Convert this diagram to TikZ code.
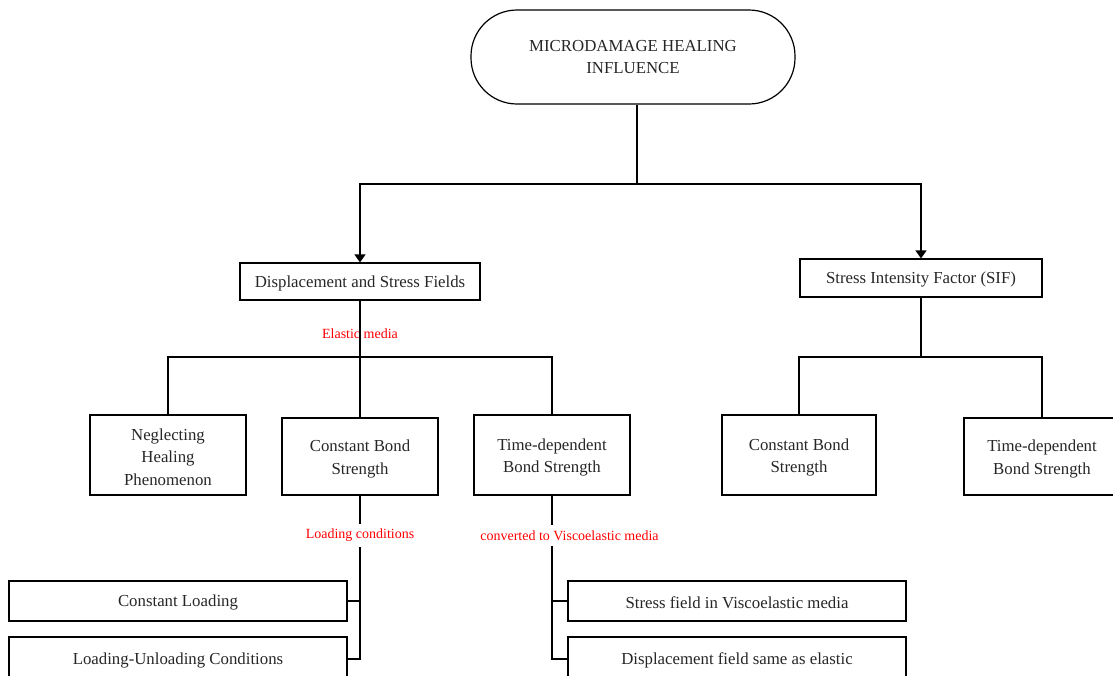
\documentclass[tikz,border=0pt]{standalone}
\usepackage{fontspec}
\setmainfont{Liberation Serif}
\usetikzlibrary{arrows.meta}
\newcommand\topstrut{\rule{0pt}{15.5pt}}
\newcommand\topstrutm{\rule{0pt}{16.5pt}}
\begin{document}
\begin{tikzpicture}[x=1pt,y=-1pt,
  box/.style={draw=black, line width=1.2pt, align=center, inner sep=0pt,
    font=\fontsize{16.8}{22.5}\selectfont, text=black!85},
  lbl/.style={text=red, inner sep=1pt, font=\fontsize{14}{16}\selectfont},
  conn/.style={line width=1.3pt},
  arr/.style={conn, -{Triangle[width=11pt,length=8pt]}}]
\useasboundingbox (0,0) rectangle (1113,675);
\clip (0,0) rectangle (1113,675);
% top
\node[box, minimum width=324pt, minimum height=94pt, rounded corners=46pt] (top) at (633,57)
  {MICRODAMAGE HEALING\\INFLUENCE};
% level 1
\node[box, minimum width=240pt, minimum height=37pt] (dsf) at (360,281.5) {\topstrut Displacement and Stress Fields};
\node[box, minimum width=242pt, minimum height=38pt] (sif) at (921,278) {\topstrut Stress Intensity Factor (SIF)};
% level 2 left
\node[box, minimum width=156pt, minimum height=80pt] (neg) at (168,455) {\topstrut Neglecting\\Healing\\Phenomenon};
\node[box, minimum width=156pt, minimum height=77pt] (cbs) at (360,456.5) {\topstrutm Constant Bond\\Strength};
\node[box, minimum width=156pt, minimum height=80pt] (tdb) at (552,455) {\topstrutm Time-dependent\\Bond Strength};
% level 2 right
\node[box, minimum width=154pt, minimum height=80pt] (cbs2) at (799,455) {\topstrutm Constant Bond\\Strength};
\node[box, minimum width=156pt, minimum height=77pt] (tdb2) at (1042,456.5) {\topstrutm Time-dependent\\Bond Strength};
% level 3
\node[box, minimum width=338pt, minimum height=40pt] (cl) at (178,601) {\topstrut Constant Loading};
\node[box, minimum width=338pt, minimum height=44pt] (lu) at (178,659) {\topstrut Loading-Unloading Conditions};
\node[box, minimum width=338pt, minimum height=40pt] (sf) at (737,601) {\topstrut Stress field in Viscoelastic media};
\node[box, minimum width=338pt, minimum height=44pt] (df) at (737,659) {\topstrut Displacement field same as elastic};
% labels
\node[lbl] (el) at (360,334) {Elastic media};
\node[lbl, fill=white, inner ysep=5pt] (lc) at (360,535.5) {Loading conditions};
\node[lbl, fill=white, inner ysep=5pt] (cv) at (569.5,535.5) {converted to Viscoelastic media};
% junctions
\coordinate (j0) at (637,184);
\coordinate (j1) at (360,357);
\coordinate (j2) at (921,357);
% top connectors
\draw[conn] (j0 |- top.south) -- (j0);
\draw[arr] (j0) -| (dsf.north);
\draw[arr] (j0) -| (sif.north);
% left tree
\draw[conn] (dsf.south -| j1) -- (j1);
\draw[conn] (j1) -| (neg.north);
\draw[conn] (j1) -| (tdb.north);
\draw[conn] (j1) -- (cbs.north -| j1);
% SIF tree
\draw[conn] (sif.south -| j2) -- (j2);
\draw[conn] (j2) -| (cbs2.north);
\draw[conn] (j2) -| (tdb2.north);
% constant bond branch
\draw[conn] (cbs.south -| j1) -- (lc.north -| j1);
\draw[conn] (lc.south -| j1) -- (lu.east -| j1) -- (lu.east);
\draw[conn] (cl.east -| j1) -- (cl.east);
% time-dependent branch
\coordinate (j3) at (552,495);
\draw[conn] (j3) -- (cv.north -| j3);
\draw[conn] (cv.south -| j3) -- (df.west -| j3) -- (df.west);
\draw[conn] (sf.west -| j3) -- (sf.west);
\end{tikzpicture}
\end{document}
